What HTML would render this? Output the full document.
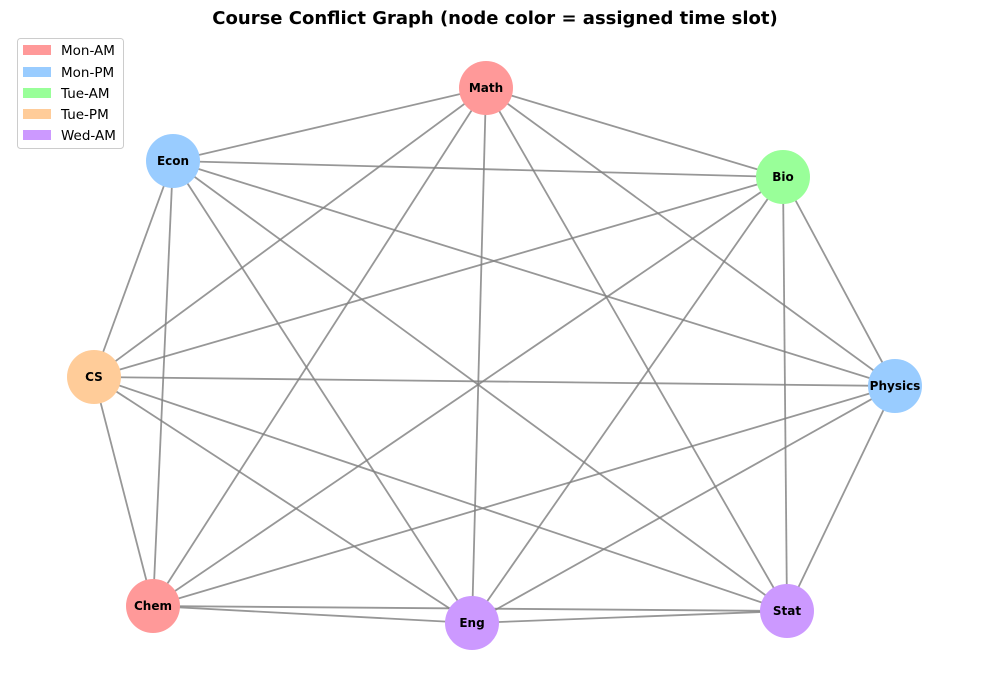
<!DOCTYPE html>
<html><head><meta charset="utf-8"><style>
html,body{margin:0;padding:0;background:#fff;}
svg{display:block;font-family:"DejaVu Sans","Liberation Sans",sans-serif;}
</style></head><body>
<svg width="989" height="690" viewBox="0 0 989 690" xmlns="http://www.w3.org/2000/svg">
<rect width="989" height="690" fill="#fff"/>
<text x="495" y="24" text-anchor="middle" font-size="18" font-weight="bold" fill="#000">Course Conflict Graph (node color = assigned time slot)</text>
<g stroke="#808080" stroke-opacity="0.82" stroke-width="1.8">
<line x1="486" y1="88" x2="173" y2="161"/><line x1="486" y1="88" x2="783" y2="177"/><line x1="486" y1="88" x2="94" y2="377"/><line x1="486" y1="88" x2="895" y2="386"/><line x1="486" y1="88" x2="153" y2="606"/><line x1="486" y1="88" x2="472" y2="623"/><line x1="486" y1="88" x2="787" y2="611"/>
<line x1="173" y1="161" x2="783" y2="177"/><line x1="173" y1="161" x2="94" y2="377"/><line x1="173" y1="161" x2="895" y2="386"/><line x1="173" y1="161" x2="153" y2="606"/><line x1="173" y1="161" x2="472" y2="623"/><line x1="173" y1="161" x2="787" y2="611"/>
<line x1="783" y1="177" x2="94" y2="377"/><line x1="783" y1="177" x2="895" y2="386"/><line x1="783" y1="177" x2="153" y2="606"/><line x1="783" y1="177" x2="472" y2="623"/><line x1="783" y1="177" x2="787" y2="611"/>
<line x1="94" y1="377" x2="895" y2="386"/><line x1="94" y1="377" x2="153" y2="606"/><line x1="94" y1="377" x2="472" y2="623"/><line x1="94" y1="377" x2="787" y2="611"/>
<line x1="895" y1="386" x2="153" y2="606"/><line x1="895" y1="386" x2="472" y2="623"/><line x1="895" y1="386" x2="787" y2="611"/>
<line x1="153" y1="606" x2="472" y2="623"/><line x1="153" y1="606" x2="787" y2="611"/>
<line x1="472" y1="623" x2="787" y2="611"/>
</g>
<g font-size="12" font-weight="bold" text-anchor="middle" fill="#000">
<circle cx="486" cy="88" r="27" fill="#ff9999"/><text x="486" y="92">Math</text>
<circle cx="173" cy="161" r="27" fill="#99ccff"/><text x="173" y="165">Econ</text>
<circle cx="783" cy="177" r="27" fill="#99ff99"/><text x="783" y="181">Bio</text>
<circle cx="94" cy="377" r="27" fill="#ffcc99"/><text x="94" y="381">CS</text>
<circle cx="895" cy="386" r="27" fill="#99ccff"/><text x="895" y="390">Physics</text>
<circle cx="153" cy="606" r="27" fill="#ff9999"/><text x="153" y="610">Chem</text>
<circle cx="472" cy="623" r="27" fill="#cc99ff"/><text x="472" y="627">Eng</text>
<circle cx="787" cy="611" r="27" fill="#cc99ff"/><text x="787" y="615">Stat</text>
</g>
<rect x="17.5" y="38.5" width="106" height="110" rx="3" fill="#fff" stroke="#ccc"/>
<g font-size="13.5" fill="#000">
<rect x="23" y="45" width="28" height="10" fill="#ff9999"/><text x="61" y="55">Mon-AM</text>
<rect x="23" y="67" width="28" height="10" fill="#99ccff"/><text x="61" y="77">Mon-PM</text>
<rect x="23" y="88" width="28" height="10" fill="#99ff99"/><text x="61" y="98">Tue-AM</text>
<rect x="23" y="109" width="28" height="10" fill="#ffcc99"/><text x="61" y="119">Tue-PM</text>
<rect x="23" y="130" width="28" height="10" fill="#cc99ff"/><text x="61" y="140">Wed-AM</text>
</g>
</svg>
</body></html>
